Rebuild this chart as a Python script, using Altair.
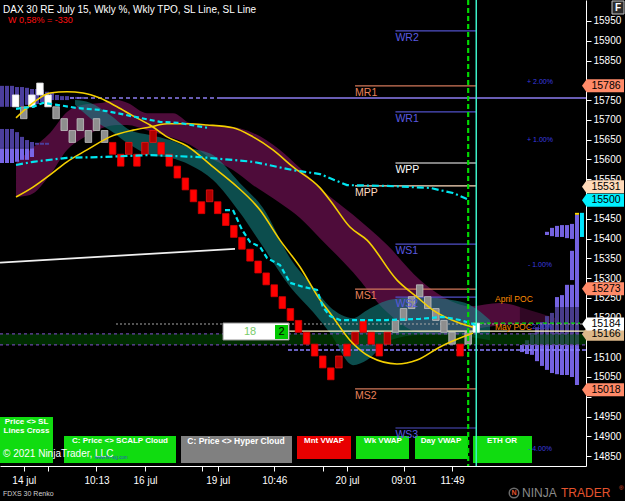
import altair as alt
import pandas as pd

FONT = "Liberation Sans"

# ---------------- Renko bars (box = 30 pts) ----------------
RENKO_BOX = 30
renko_bar = list(range(1, 59))
renko_top = [15763, 15733, 15763, 15793, 15763, 15733, 15703, 15673, 15703, 15673, 15703, 15673,
             15643, 15613, 15643, 15613, 15643, 15673, 15643, 15613, 15583, 15553, 15523, 15493,
             15523, 15493, 15463, 15433, 15403, 15373, 15343, 15313, 15283, 15253, 15223, 15193,
             15163, 15133, 15103, 15073, 15103, 15133, 15163, 15193, 15163, 15133, 15163, 15193,
             15223, 15253, 15283, 15253, 15223, 15193, 15163, 15133, 15163, 15186]
renko_bottom = [t - RENKO_BOX for t in renko_top[:-1]] + [15163]
renko_kind = list("WGWWWGGGGGGG" "RRDRDDRRRRRRD" "RRRRRRRRRRRRRRR" "DRDRRRD" "GGGGGGGGRGW")

# ---------------- indicator lines ----------------
cyanA1_bar = [1.04, 3.14, 4.38, 6.11, 8.59, 11.43, 13.54, 16.38, 18.86, 21.33, 24.68]
cyanA1_val = [15728, 15733, 15743, 15738, 15730, 15725, 15717, 15705, 15695, 15692, 15680]
cyanA2_bar = [26.90, 27.89, 29.01, 30.02, 31.24, 32.10, 33.71, 34.95, 36.56, 38.29, 39.03,
              39.90, 41.14, 46.95, 51.04, 53.88, 55.99, 58.09]
cyanA2_val = [15472, 15472, 15422, 15391, 15379, 15351, 15333, 15288, 15278, 15270, 15227,
              15204, 15194, 15194, 15197, 15202, 15194, 15181]
cyanB_bar = [1.04, 3.14, 7.35, 11.43, 17.62, 23.81, 30.37, 35.32, 38.66, 42.00, 46.95, 52.28, 55.12, 56.85]
cyanB_val = [15586, 15594, 15604, 15606, 15611, 15606, 15594, 15573, 15563, 15535, 15533, 15528, 15515, 15500]

yel1_bar = [1.04, 3.14, 5.25, 7.35, 9.82, 12.67, 15.52, 17.62, 19.73, 22.20, 24.68, 27.89,
            30.37, 32.84, 35.32, 38.66, 39.90, 42.37, 44.48, 48.19, 50.67, 52.65, 55.99, 57.60]
yel1_val = [15505, 15530, 15561, 15594, 15624, 15657, 15674, 15682, 15690, 15690, 15687, 15680,
            15657, 15624, 15581, 15528, 15497, 15429, 15396, 15295, 15252, 15219, 15186, 15176]
yel2_bar = [1.04, 3.14, 5.25, 7.35, 9.33, 11.43, 13.54, 15.52, 17.62, 19.73, 22.20, 25.42,
            27.89, 31.24, 33.71, 36.19, 38.66, 39.90, 42.37, 44.85, 48.19, 50.67, 53.51, 57.60]
yel2_val = [15705, 15743, 15768, 15771, 15768, 15755, 15733, 15710, 15687, 15657, 15634, 15581,
            15540, 15472, 15396, 15328, 15245, 15212, 15143, 15101, 15083, 15093, 15126, 15161]

# ---------------- clouds ----------------
hyper_bar = [1.04, 2.77, 5.25, 7.35, 9.33, 11.80, 13.54, 14.78, 17.25, 20.47, 22.57, 25.05, 27.89,
             30.37, 33.71, 36.19, 38.66, 42.75, 46.95, 51.04, 54.13, 57.23, 60.94, 64.65, 67.75]
hyper_top = [15591, 15624, 15667, 15720, 15738, 15743, 15750, 15743, 15717, 15717, 15692, 15685, 15682,
             15667, 15624, 15578, 15528, 15460, 15384, 15295, 15250, 15229, 15237, 15219, 15199]
hyper_bot = [15505, 15510, 15561, 15624, 15654, 15680, 15687, 15687, 15674, 15654, 15637, 15604, 15573,
             15535, 15490, 15452, 15401, 15315, 15214, 15161, 15156, 15169, 15181, 15186, 15189]
scalp_bar = [8.34, 10.20, 12.67, 15.15, 17.62, 20.10, 22.57, 25.42, 28.76, 31.61, 34.95, 37.80,
             39.90, 42.75, 44.48, 47.32, 51.04, 54.75, 57.23, 59.70]
scalp_top = [15750, 15743, 15712, 15674, 15662, 15649, 15629, 15611, 15540, 15477, 15351, 15278,
             15227, 15199, 15219, 15245, 15252, 15245, 15232, 15194]
scalp_bot = [15738, 15705, 15674, 15637, 15611, 15604, 15586, 15548, 15465, 15379, 15278, 15214,
             15161, 15080, 15093, 15143, 15156, 15156, 15151, 15143]

# ---------------- volume / TPO profiles ----------------
lp_col = [0, 1, 2, 3, 4, 5, 6, 7, 8, 9, 10, 11, 12, 13, 14, 15, 16,
          0, 1, 2, 3, 4, 5, 6, 7, 8, 9,
          0, 1, 2, 3, 4, 5, 6]
lp_hi = [15786, 15786, 15786, 15783, 15783, 15781, 15778, 15778, 15776, 15771, 15768, 15763, 15760, 15760, 15758, 15758, 15758,
         15677, 15677, 15677, 15669, 15657, 15649, 15644, 15642, 15642, 15642,
         15628, 15628, 15628, 15628, 15628, 15628, 15628]
lp_lo = [15733, 15733, 15733, 15733, 15735, 15738, 15740, 15740, 15745, 15750, 15750, 15750, 15750, 15750, 15753, 15753, 15753,
         15629, 15629, 15629, 15629, 15629, 15629, 15629, 15637, 15637, 15637,
         15591, 15591, 15591, 15594, 15599, 15599, 15606]
lp_shade = ["d"] * 27 + ["l"] * 7

rp_col = [0, 1, 1, 1, 2, 2, 3, 3, 4, 4, 5, 5, 6, 6, 7, 8, 9, 10, 11]
rp_hi = [15460, 15437, 15369, 15283, 15434, 15283, 15434, 15257, 15432, 15252, 15427, 15212,
         15417, 15204, 15189, 15176, 15161, 15143, 15131]
rp_lo = [15030, 15399, 15295, 15050, 15401, 15055, 15404, 15055, 15404, 15057, 15406, 15060,
         15409, 15068, 15078, 15090, 15106, 15108, 15113]

# ---------------- levels ----------------
piv_name = ["WR2", "MR1", "WR1", "WPP", "MPP", "WS1", "MS1", "WS2", "MS2", "WS3"]
piv_price = [15925, 15786, 15720, 15591, 15533, 15386, 15272, 15252, 15020, 14921]
piv_start = [48, 43, 48, 48, 43, 48, 43, 48, 43, 48]
piv_end = 58

tpo_poc = 15755
last_price = 15184
vwap_level = 15166
eth_level = 15118
or_level = 15186
band_lo, band_hi = 15131, 15159
trend_bar = [-0.94, 28.14]
trend_val = [15339, 15374]

pct_text = ["+ 2.00%", "+ 1.00%", "- 1.00%", "- 2.00%", "- 4.00%"]
pct_price = [15796, 15649, 15333, 15176, 14868]
poc_text = ["April POC", "May POC"]
poc_price = [15247, 15176]

flag_price = [15786, 15531, 15497, 15273, 15158, 15184, 15018]
flag_text = ["15786", "15531", "15500", "15273", "15166", "15184", "15018"]
flag_kind = ["M", "MPP", "SL", "M", "VW", "LAST", "M"]

x_ticks = [2, 5, 11, 17, 24, 26, 33, 39, 42, 49, 55]
x_tick_labels = ["14 jul", "", "10:13", "16 jul", "", "19 jul", "10:46", "", "20 jul", "09:01", "11:49"]
y_ticks = list(range(14850, 16000, 50))
y_hidden = [15800, 15500, 15150, 15000]   # labels hidden behind the price flags

# ---------------- scales / axes ----------------
X0, X1 = -0.943, 71.582
XS = alt.Scale(domain=[X0, X1], nice=False, zero=False, padding=0)
YS = alt.Scale(domain=[14825, 16003], nice=False, zero=False, padding=0)
expr = "''"
for v, s in reversed(list(zip(x_ticks, x_tick_labels))):
    expr = f"datum.value == {v} ? '{s}' : ({expr})"
y_expr = "indexof([" + ",".join(str(v) for v in y_hidden) + "], datum.value) >= 0 ? '' : datum.label"
XA = alt.Axis(values=x_ticks, labelExpr=expr, title=None, grid=False, tickSize=5, labelPadding=4,
              labelOverlap=False, labelFlush=False, domainColor="white", tickColor="white",
              labelColor="white", labelFontSize=10, labelFont=FONT)
YA = alt.Axis(orient="right", values=y_ticks, format="d", labelExpr=y_expr, title=None, grid=False,
              tickSize=5, labelPadding=2, labelOverlap=False, domainColor="white", tickColor="white",
              labelColor="white", labelFontSize=10, labelFont=FONT, labelFlush=False)


def X(f):
    return alt.X(f, type="quantitative", scale=XS, axis=XA)


def Y(f):
    return alt.Y(f, type="quantitative", scale=YS, axis=YA)


ONE = pd.DataFrame({"_": [0]})


def hseg(x1, x2, y, color, width=1.0, dash=None, opacity=1.0):
    kw = dict(color=color, strokeWidth=width, opacity=opacity)
    if dash:
        kw["strokeDash"] = dash
    df = pd.DataFrame({"x1": [x1], "x2": [x2], "y": [y]})
    return alt.Chart(df).mark_rule(**kw).encode(x=X("x1"), x2="x2", y=Y("y"))


def line(xs, ys, color, width=1.5, dash=None, interp="linear"):
    kw = dict(color=color, strokeWidth=width, interpolate=interp)
    if dash:
        kw["strokeDash"] = dash
    df = pd.DataFrame({"b": xs, "v": ys})
    return alt.Chart(df).mark_line(**kw).encode(x=X("b"), y=Y("v"))


def ui_rect(x1, y1, x2, y2, fill, stroke=None, sw=1.0, opacity=1.0):
    kw = dict(fill=fill, opacity=opacity)
    if stroke:
        kw.update(stroke=stroke, strokeWidth=sw)
    return alt.Chart(ONE).mark_rect(**kw).encode(
        x=alt.value(x1), x2=alt.value(x2), y=alt.value(y1), y2=alt.value(y2))


def ui_text(s, x, y, size=10, color="white", bold=False, align="left", baseline="middle"):
    return alt.Chart(pd.DataFrame({"t": [s]})).mark_text(
        align=align, baseline=baseline, fontSize=size, color=color, font=FONT,
        fontWeight="bold" if bold else "normal").encode(
        x=alt.value(x), y=alt.value(y), text="t:N")


layers = []

# clouds
hyper_df = pd.DataFrame({"b": hyper_bar, "t": hyper_top, "l": hyper_bot})
layers.append(alt.Chart(hyper_df).mark_area(color="#4E0C3A", interpolate="monotone").encode(
    x=X("b"), y=Y("t"), y2="l"))
scalp_df = pd.DataFrame({"b": scalp_bar, "t": scalp_top, "l": scalp_bot})
layers.append(alt.Chart(scalp_df).mark_area(color="#168C8C", opacity=0.55, interpolate="monotone").encode(
    x=X("b"), y=Y("t"), y2="l"))

# left TPO profile (columns 5 px apart)
LP_STEP, LP_W = 0.619, 0.495
lp_df = pd.DataFrame({"c": lp_col, "hi": lp_hi, "lo": lp_lo, "s": lp_shade})
lp_df["x1"] = X0 + LP_STEP * lp_df["c"]
lp_df["x2"] = lp_df["x1"] + LP_W
layers.append(alt.Chart(lp_df).mark_rect().encode(
    x=X("x1"), x2="x2", y=Y("hi"), y2="lo",
    color=alt.Color("s:N", scale=alt.Scale(domain=["d", "l"], range=["#4B3E9C", "#7866E6"]), legend=None)))

# right volume profile
RP_RIGHT, RP_STEP, RP_W = 70.715, 0.619, 0.495
rp_df = pd.DataFrame({"c": rp_col, "hi": rp_hi, "lo": rp_lo})
rp_df["x2"] = RP_RIGHT - RP_STEP * rp_df["c"]
rp_df["x1"] = rp_df["x2"] - RP_W
layers.append(alt.Chart(rp_df).mark_rect(color="#7462E0").encode(
    x=X("x1"), x2="x2", y=Y("hi"), y2="lo"))
layers.append(alt.Chart(pd.DataFrame({"x1": [63.4], "x2": [70.72], "hi": [15227], "lo": [15159]}))
              .mark_rect(color="black", opacity=0.38).encode(x=X("x1"), x2="x2", y=Y("hi"), y2="lo"))
layers.append(alt.Chart(pd.DataFrame({"x1": [70.22], "x2": [70.72], "hi": [15465], "lo": [15460]}))
              .mark_rect(color="#FFD700").encode(x=X("x1"), x2="x2", y=Y("hi"), y2="lo"))
layers.append(alt.Chart(pd.DataFrame({"x1": [70.84], "x2": [71.33], "hi": [15465], "lo": [15404]}))
              .mark_rect(color="#00E5FF").encode(x=X("x1"), x2="x2", y=Y("hi"), y2="lo"))

# green band
layers.append(alt.Chart(pd.DataFrame({"x1": [X0], "x2": [X1], "hi": [band_hi], "lo": [band_lo]}))
              .mark_rect(color="#004000", opacity=0.7).encode(x=X("x1"), x2="x2", y=Y("hi"), y2="lo"))
layers.append(hseg(X0, X1, band_hi, "#6A44A8", 1.2, [3, 3]))
layers.append(hseg(X0, X1, band_lo, "#6A44A8", 1.2, [3, 3]))

# trend line
layers.append(line(trend_bar, trend_val, "#F0F0F0", 1.8))

# horizontal levels
layers.append(hseg(7.72, 25.91, tpo_poc, "#8C7CF0", 1.5, [4, 3]))
layers.append(hseg(25.91, X1, tpo_poc, "#8C7CF0", 1.5))
layers.append(hseg(13.41, X1, last_price, "#A8A8A8", 1.2, [2, 2]))
layers.append(hseg(34.70, X1, vwap_level, "#FFF8C0", 1.2))
layers.append(hseg(34.70, X1, eth_level, "#8A80FF", 1.5, [4, 2]))
layers.append(hseg(57.6, 70.84, or_level, "#00E000", 1.2, [4, 3]))

# pivot lines
piv_df = pd.DataFrame({"name": piv_name, "price": piv_price, "start": piv_start})
piv_df["end"] = piv_end
piv_df["g"] = [n if n in ("WPP", "MPP") else n[0] for n in piv_name]
PIV_DOM = ["W", "M", "WPP", "MPP"]
layers.append(alt.Chart(piv_df).mark_rule(strokeWidth=1.2).encode(
    x=X("start"), x2="end", y=Y("price"),
    color=alt.Color("g:N", scale=alt.Scale(domain=PIV_DOM, range=["#5050C8", "#D2785A", "#FFFFFF", "#FFDDBE"]), legend=None)))

# renko bars
renko_df = pd.DataFrame({"bar": renko_bar, "top": renko_top, "bottom": renko_bottom, "kind": renko_kind})
KD = ["W", "G", "R", "D"]
layers.append(alt.Chart(renko_df).mark_bar(size=6.5, strokeWidth=0.8).encode(
    x=X("bar"), y=Y("top"), y2="bottom",
    fill=alt.Fill("kind:N", scale=alt.Scale(domain=KD, range=["#FFFFFF", "#8E8E8E", "#FF0000", "#B00000"]), legend=None),
    stroke=alt.Stroke("kind:N", scale=alt.Scale(domain=KD, range=["#E8E8E8", "#C4C4C4", "#D80000", "#F01010"]), legend=None)))

# SL lines
layers.append(line(yel1_bar, yel1_val, "#F5D000", 1.6, interp="monotone"))
layers.append(line(yel2_bar, yel2_val, "#F5D000", 1.6, interp="monotone"))
layers.append(line(cyanA1_bar, cyanA1_val, "#00E6F0", 2.2, [5, 3]))
layers.append(line(cyanA2_bar, cyanA2_val, "#00E6F0", 2.2, [5, 3]))
layers.append(line(cyanB_bar, cyanB_val, "#00E6F0", 2.2, [7, 3, 2, 3]))

# bottom indicator boxes
GREEN = "#10DC10"
layers.append(ui_rect(0, 417, 53, 463, GREEN))
layers.append(ui_text("Price <> SL", 26.5, 422, 8, bold=True, align="center"))
layers.append(ui_text("Lines Cross", 26.5, 431, 8, bold=True, align="center"))
layers.append(ui_rect(64, 436, 176, 463, GREEN))
layers.append(ui_text("C: Price <> SCALP Cloud", 120, 441, 8, bold=True, align="center"))
layers.append(ui_rect(181, 436, 292, 463, "#808080"))
layers.append(ui_text("C: Price <> Hyper Cloud", 236, 441, 8.5, bold=True, align="center"))
layers.append(ui_rect(297, 436, 351, 459, "#E80000"))
layers.append(ui_text("Mnt VWAP", 324, 441, 8, bold=True, align="center"))
layers.append(ui_rect(356, 436, 409, 459, GREEN))
layers.append(ui_text("Wk VWAP", 383, 441, 8, bold=True, align="center"))
layers.append(ui_rect(415, 436, 468, 459, GREEN))
layers.append(ui_text("Day VWAP", 441, 441, 8, bold=True, align="center"))
layers.append(ui_rect(473, 436, 532, 463, GREEN))
layers.append(ui_text("ETH OR", 502, 441, 8, bold=True, align="center"))
layers.append(ui_text("\u00a9 2021 NinjaTrader, LLC", 3, 454, 10))
layers.append(ui_text("www.fin-sig.com", 95, 458, 4.5, color="#2A50C8"))

# pivot labels
layers.append(alt.Chart(piv_df).mark_text(align="left", baseline="top", dy=2, fontSize=10.5, font=FONT).encode(
    x=X("start"), y=Y("price"), text="name:N",
    color=alt.Color("g:N", scale=alt.Scale(domain=PIV_DOM, range=["#5A5AE0", "#E8805A", "#FFFFFF", "#FFDCC0"]), legend=None)))

# percent / POC labels
pct_df = pd.DataFrame({"t": pct_text, "p": pct_price})
pct_df["b"] = 65.89
layers.append(alt.Chart(pct_df).mark_text(align="center", baseline="middle", fontSize=7, font=FONT, color="#3C3CE0").encode(
    x=X("b"), y=Y("p"), text="t:N"))
poc_df = pd.DataFrame({"t": poc_text, "p": poc_price})
poc_df["b"] = 60.32
layers.append(alt.Chart(poc_df).mark_text(align="left", baseline="middle", fontSize=8.5, font=FONT, color="#FF8C00").encode(
    x=X("b"), y=Y("p"), text="t:N"))

# renko counter widget
layers.append(ui_rect(223, 323, 289, 340, "#FFFFFF", stroke="#909090", sw=1))
layers.append(ui_rect(275, 325, 288, 339, "#00C800"))
layers.append(ui_text("18", 250, 332, 11, color="#78CC6A", align="center"))
layers.append(ui_text("2", 281.5, 332, 11, color="black", align="center"))

# vertical markers
layers.append(alt.Chart(pd.DataFrame({"b": [57]})).mark_rule(color="#00D800", strokeWidth=2.2, strokeDash=[5, 3]).encode(x=X("b")))
layers.append(alt.Chart(pd.DataFrame({"b": [58]})).mark_rule(color="#3CF0C8", strokeWidth=1.5).encode(x=X("b")))

# price flags
FLAG = "M -1 0 L -0.78 -0.31 L 1 -0.31 L 1 0.31 L -0.78 0.31 Z"
flag_df = pd.DataFrame({"p": flag_price, "t": flag_text, "k": flag_kind, "o": list(range(len(flag_price)))})
FK = ["M", "MPP", "SL", "VW", "LAST"]
layers.append(alt.Chart(flag_df).mark_point(shape=FLAG, filled=True, size=1764, opacity=1, strokeWidth=0).encode(
    x=alt.value(603), y=Y("p"), order="o:Q",
    color=alt.Color("k:N", scale=alt.Scale(domain=FK, range=["#FF8A68", "#FFDAB9", "#00F0FF", "#DDB88A", "#FFFFFF"]), legend=None)))
layers.append(alt.Chart(flag_df).mark_text(align="center", baseline="middle", fontSize=10.5, font=FONT, color="black").encode(
    x=alt.value(606), y=Y("p"), text="t:N", order="o:Q"))

# header / footer texts
layers.append(ui_text("DAX 30 RE July 15, Wkly %, Wkly TPO, SL Line, SL Line", 3, 10, 10))
layers.append(ui_text("W 0,58% = -330", 8, 20, 9, color="#FF1010"))
layers.append(ui_rect(612, 1, 624, 14, "#2A2A2A", stroke="#C0C0C0", sw=1))
layers.append(ui_text("F", 618, 8, 10, bold=True, align="center"))
layers.append(ui_text("FDXS 30 Renko", 3, 494, 7, color="#D0D0D0"))
layers.append(alt.Chart(ONE).mark_point(shape="circle", size=90, filled=False, color="#9A9A9A", strokeWidth=1.5).encode(
    x=alt.value(514), y=alt.value(493)))
layers.append(ui_text("N", 514, 493, 7, color="#E5532D", bold=True, align="center"))
layers.append(ui_text("NINJA", 522, 493, 12, color="#8A8A8A"))
layers.append(ui_text("TRADER", 561, 493, 12, color="#E5532D"))
layers.append(ui_text("\u00ae", 619, 488, 6, color="#E5532D"))

chart = alt.layer(*layers).resolve_scale(
    color="independent", fill="independent", stroke="independent"
).properties(
    width=586, height=466,
    padding={"left": 0, "top": 0, "right": 39, "bottom": 35},
    autosize=alt.AutoSizeParams(type="none"),
).configure(background="black", font=FONT).configure_view(strokeWidth=0)

chart.save("out.html", embed_options={"renderer": "svg", "actions": False})
